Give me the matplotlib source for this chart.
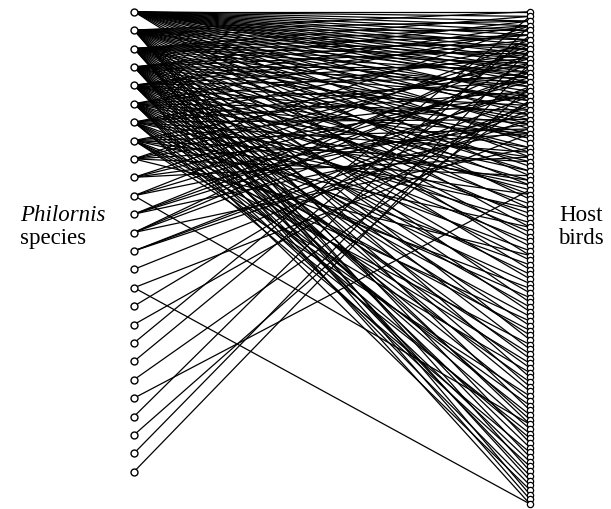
import matplotlib
matplotlib.use("Agg")
import matplotlib.pyplot as plt

# bipartite network: Philornis species (left) vs host birds (right)
n_species = 26
n_hosts = 106

# links: for each species, the host indices (0 = top host)
links = [
    [0, 1, 2, 3, 4, 5, 6, 7, 8, 9, 10, 11, 12, 13, 14, 15, 16, 18, 20, 22, 25, 28, 31, 35, 40, 46, 52],
    [0, 2, 4, 6, 8, 10, 12, 14, 17, 19, 21, 24, 27, 30, 33, 37, 42, 48, 55, 62, 70, 78, 85, 92, 98, 103],
    [1, 3, 5, 7, 9, 11, 13, 16, 19, 23, 26, 29, 34, 39, 44, 50, 57, 64, 72, 80, 88, 95, 100, 104],
    [2, 5, 8, 12, 15, 18, 22, 27, 32, 36, 41, 47, 53, 60, 67, 74, 81, 87, 93, 99, 105],
    [3, 6, 10, 14, 20, 24, 29, 34, 38, 43, 49, 56, 63, 69, 76, 83, 89, 96, 101],
    [4, 9, 15, 21, 26, 31, 37, 45, 51, 58, 65, 73, 79, 86, 91, 97, 102],
    [7, 13, 17, 23, 30, 36, 42, 54, 61, 68, 75, 84, 90, 94],
    [11, 18, 25, 32, 39, 46, 59, 66, 71, 77, 82],
    [3, 10, 18, 26, 35, 52],
    [8, 15, 24, 31],
    [6, 14, 22, 88],
    [9, 13, 17, 25],
    [7, 11, 16, 29],
    [18, 20, 23],
    [21],
    [26, 105],
    [12],
    [19],
    [1],
    [5],
    [19],
    [38],
    [3],
    [16],
    [8],
    [11],
]

fig = plt.figure(figsize=(6.11, 5.10), dpi=100)
ax = fig.add_axes([0, 0, 1, 1])
ax.set_xlim(0, 611)
ax.set_ylim(510, 0)
ax.axis('off')

x_left, x_right = 134, 530
top = 12.7
left_y = [top + i * (472.7 - top) / (n_species - 1) for i in range(n_species)]
right_y = [top + j * (505 - top) / (n_hosts - 1) for j in range(n_hosts)]

for i, hosts in enumerate(links):
    for j in hosts:
        ax.plot([x_left, x_right], [left_y[i], right_y[j]], color='black', lw=0.9, zorder=1)

ax.plot([x_left] * n_species, left_y, 'o', ms=5, mfc='white', mec='black', mew=1.0, zorder=2)
ax.plot([x_right] * n_hosts, right_y, 'o', ms=4.5, mfc='white', mec='black', mew=0.9, zorder=2)

serif = ['Liberation Serif', 'DejaVu Serif']
ax.text(20, 221, 'Philornis', family=serif, style='italic', fontsize=16.5, ha='left', va='baseline')
ax.text(20, 244, 'species', family=serif, fontsize=16.5, ha='left', va='baseline')
ax.text(581, 221, 'Host', family=serif, fontsize=16.5, ha='center', va='baseline')
ax.text(581, 244, 'birds', family=serif, fontsize=16.5, ha='center', va='baseline')

fig.savefig('out.png', dpi=100)
